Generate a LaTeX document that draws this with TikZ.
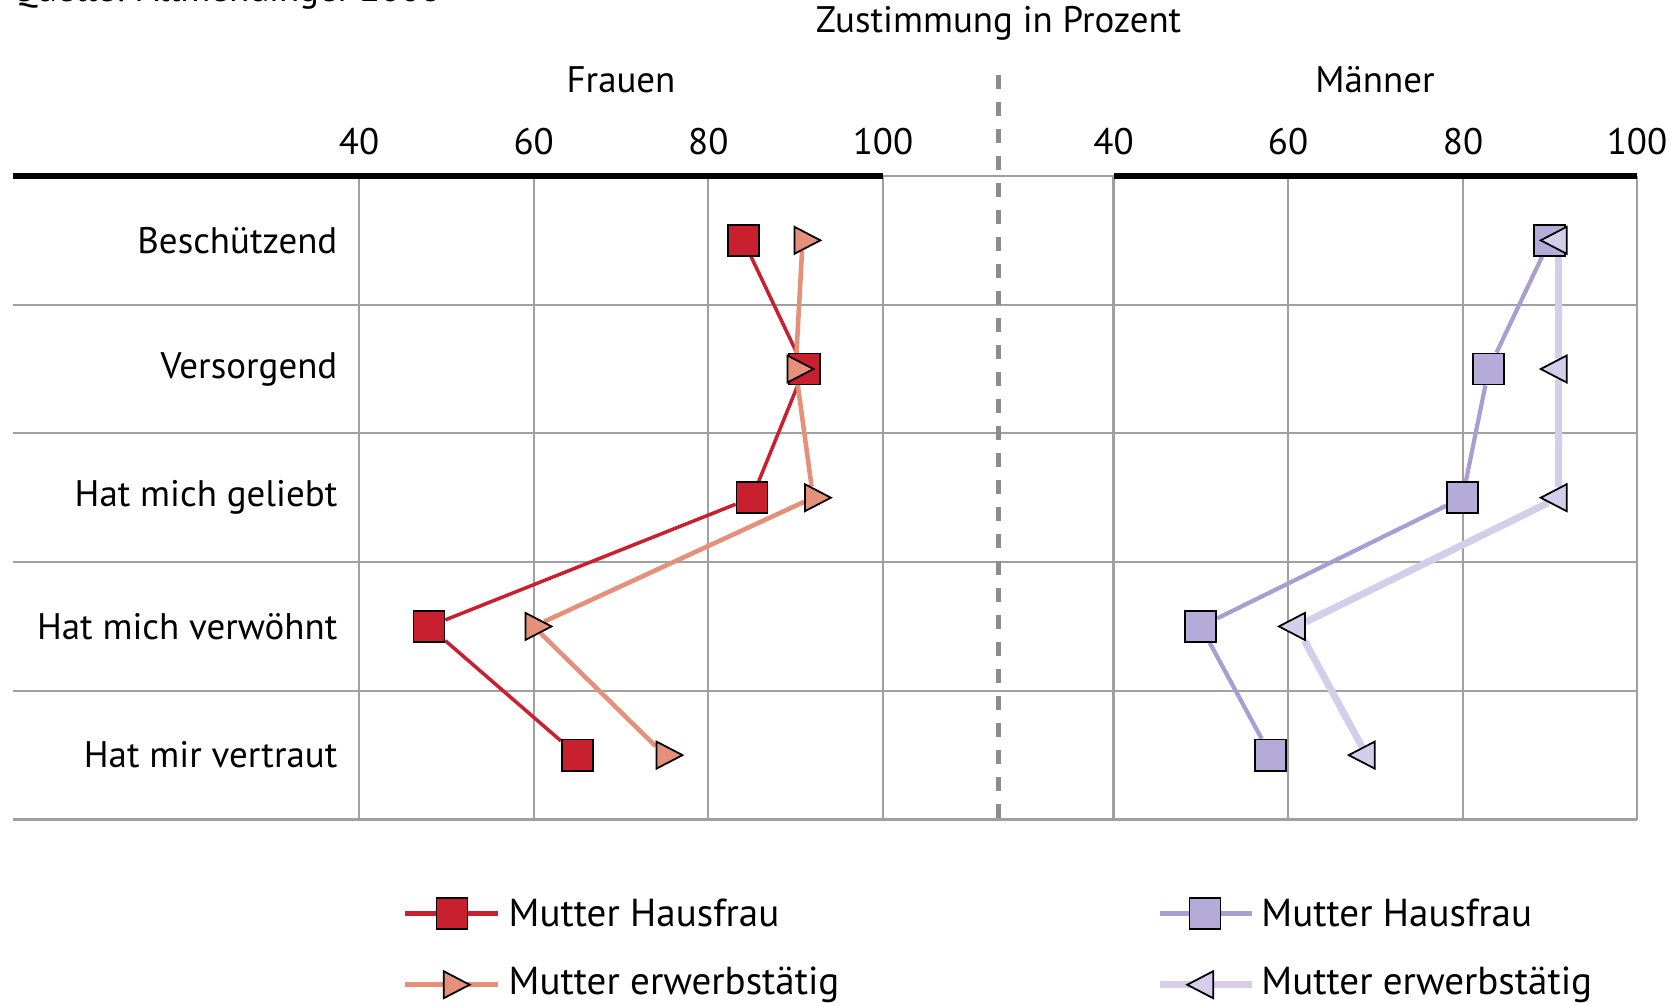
\documentclass[tikz,border=0pt]{standalone}
\usepackage{fontspec}
\setmainfont{PT Sans}
\usetikzlibrary{positioning, shapes.geometric, backgrounds}

\definecolor{rotdunkel}{HTML}{C8202F}
\definecolor{lachs}{HTML}{E5907A}
\definecolor{lila}{HTML}{A99ED2}
\definecolor{lilafill}{HTML}{B5ABD9}
\definecolor{lilahell}{HTML}{D4CEEA}
\definecolor{gitter}{HTML}{A0A0A0}
\definecolor{trenner}{HTML}{8C8C8C}

\begin{document}
\begin{tikzpicture}[x=0.01cm, y=-0.01cm, font=\fontsize{10.5}{12}\selectfont,
gridline/.style= {draw=gitter, line width=0.6pt},
axisline/.style= {draw=black, line width=1.5pt},
divider/.style= {draw=trenner, line width=1.6pt, dash pattern=on 0.14cm off 0.13cm},
rowlabel/.style= {anchor=east, inner sep=0pt},
ticklabel/.style= {inner sep=0pt},
legtext/.style= {anchor=west, inner sep=0pt, font=\fontsize{11.1}{13}\selectfont},
haus/.style= {rectangle, draw=black, line width=0.5pt, minimum size=3.1mm, inner sep=0pt},
erwerb/.style= {isosceles triangle, isosceles triangle stretches, draw=black, line width=0.5pt, minimum width=2.7mm, minimum height=2.6mm, inner sep=0pt},
fhaus/.style= {haus, fill=rotdunkel},
ferwerb/.style= {erwerb, fill=lachs},
mhaus/.style= {haus, fill=lilafill},
merwerb/.style= {erwerb, fill=lilahell, shape border rotate=180},
fhline/.style= {draw=rotdunkel, line width=1pt},
feline/.style= {draw=lachs, line width=1.3pt},
mhline/.style= {draw=lila, line width=1.2pt},
meline/.style= {draw=lilahell, line width=2pt} ]
\useasboundingbox (0,0) rectangle (1671,1005);

% Titel und Achsen
\node (quelle) [anchor=base west, inner sep=0pt] at (11,1.5) {Quelle: Allmendinger 2008};
\node (titel) [ticklabel] at (998.5,23.4) {Zustimmung in Prozent};
\node (frauen) [ticklabel] at (621,80) {Frauen};
\node (maenner) [ticklabel] at (1375,80) {Männer};
\foreach \x/\t in {359/40, 533.7/60, 708.3/80, 883/100, 1113.5/40, 1288/60, 1463/80, 1637/100}
  \node [ticklabel] at (\x,141.7) {\t};

% Zeilen
\node (besch) [rowlabel] at (338,240.3) {Beschützend};
\node (verso) [rowlabel] at (338,369) {Versorgend};
\node (gelie) [rowlabel] at (338,497.7) {Hat mich geliebt};
\node (verwo) [rowlabel] at (338,626.4) {Hat mich verwöhnt};
\node (vertr) [rowlabel] at (338,755.1) {Hat mir vertraut};

% Frauen
\node (fh1) [fhaus] at (743.3,240.3) {};
\node (fh2) [fhaus] at (804.4,369) {};
\node (fh3) [fhaus] at (752,497.7) {};
\node (fh4) [fhaus] at (428.9,626.4) {};
\node (fh5) [fhaus] at (577.3,755.1) {};
\node (fe1) [ferwerb] at (802.6,240.3) {};
\node (fe2) [ferwerb] at (795.6,369) {};
\node (fe3) [ferwerb] at (813.1,497.7) {};
\node (fe4) [ferwerb] at (533.7,626.4) {};
\node (fe5) [ferwerb] at (664.7,755.1) {};

% Maenner
\node (mh1) [mhaus] at (1549.8,240.3) {};
\node (mh2) [mhaus] at (1488.7,369) {};
\node (mh3) [mhaus] at (1462.5,497.7) {};
\node (mh4) [mhaus] at (1200.8,626.4) {};
\node (mh5) [mhaus] at (1270.5,755.1) {};
\node (me1) [merwerb] at (1558.5,240.3) {};
\node (me2) [merwerb] at (1558.5,369) {};
\node (me3) [merwerb] at (1558.5,497.7) {};
\node (me4) [merwerb] at (1296.7,626.4) {};
\node (me5) [merwerb] at (1366.5,755.1) {};

% Legende
\coordinate (lfa) at (405,913.3);  \coordinate (lfb) at (497.7,913.3);
\coordinate (lfc) at (405,984.7);  \coordinate (lfd) at (497.7,984.7);
\coordinate (lma) at (1159.5,913.3); \coordinate (lmb) at (1252,913.3);
\coordinate (lmc) at (1159.5,984.7); \coordinate (lmd) at (1252,984.7);
\node (lfh) [fhaus] at (451.9,913.3) {};
\node (lfe) [ferwerb] at (451.9,984.7) {};
\node (lmh) [mhaus] at (1205,913.3) {};
\node (lme) [merwerb] at (1205,984.7) {};
\node [legtext] at (508,913.3) {Mutter Hausfrau};
\node [legtext] at (508,984.7) {Mutter erwerbstätig};
\node [legtext] at (1260.7,913.3) {Mutter Hausfrau};
\node [legtext] at (1260.7,984.7) {Mutter erwerbstätig};

\begin{pgfonlayer}{background}
\foreach \x in {359, 533.7, 708.3, 883, 1113.5, 1288, 1463, 1637}
  \draw[gridline] (\x,176) -- (\x,819.5);
\foreach \y in {176, 304.7, 433.4, 562.1, 690.8, 819.5}
  \draw[gridline] (12.8,\y) -- (1637,\y);
\draw[axisline] (12.8,176) -- (883,176);
\draw[axisline] (1113.5,176) -- (1637,176);
\draw[divider] (998.5,74.6) -- (998.5,819.5);

\draw[fhline] (fh1) -- (fh2) -- (fh3) -- (fh4) -- (fh5);
\draw[feline] (fe1) -- (fe2) -- (fe3) -- (fe4) -- (fe5);
\draw[mhline] (mh1) -- (mh2) -- (mh3) -- (mh4) -- (mh5);
\draw[meline] (me1) -- (me2) -- (me3) -- (me4) -- (me5);
\draw[fhline, line width=1.5pt] (lfa) -- (lfb);
\draw[feline, line width=1.5pt] (lfc) -- (lfd);
\draw[mhline, line width=1.5pt] (lma) -- (lmb);
\draw[meline] (lmc) -- (lmd);
\end{pgfonlayer}
\end{tikzpicture}
\end{document}
